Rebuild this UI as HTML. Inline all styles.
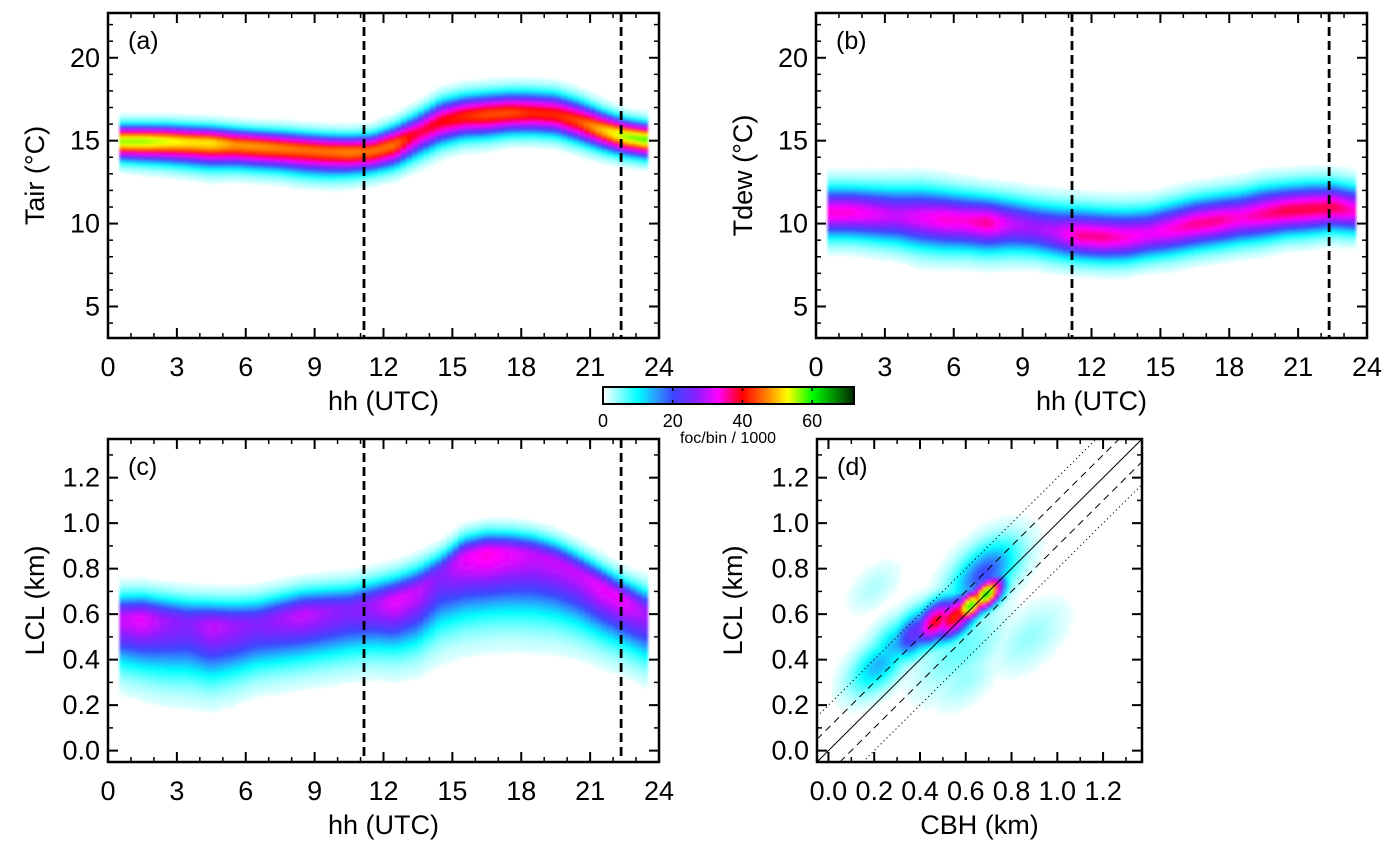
<!DOCTYPE html>
<html><head><meta charset="utf-8"><style>
html,body{margin:0;padding:0;background:#fff;}
svg{display:block;font-family:"Liberation Sans",Arial,sans-serif;}
</style></head><body>
<svg id="fig" width="1396" height="850" viewBox="0 0 1396 850" xmlns="http://www.w3.org/2000/svg">
<defs>
<filter id="blur" x="-5%" y="-5%" width="110%" height="110%"><feGaussianBlur stdDeviation="1.2"/></filter>
<clipPath id="clipA"><rect x="108" y="13" width="551" height="325"/></clipPath>
<clipPath id="clipB"><rect x="816" y="13" width="551" height="325"/></clipPath>
<clipPath id="clipC"><rect x="108" y="439" width="551" height="323"/></clipPath>
<clipPath id="clipD"><rect x="817" y="439" width="325" height="323"/></clipPath>
</defs>
</svg>
<script>
// ---------- data ----------
const hours = [0.5,1.5,2.5,3.5,4.5,5.5,6.5,7.5,8.5,9.5,10.5,11.5,12.5,13.5,14.5,15.5,16.5,17.5,18.5,19.5,20.5,21.5,22.5,23.5];
const taCenter = [15.0,15.0,15.0,14.95,14.9,14.8,14.7,14.6,14.5,14.4,14.35,14.4,14.8,15.5,16.2,16.5,16.6,16.7,16.7,16.6,16.2,15.7,15.3,15.1];
const taPeak = [56,56,54,52,52,48,48,47,46,46,47,46,46,38,40,42,44,44,42,42,44,50,56,58];
const taSigUp = [0.6,0.6,0.6,0.6,0.6,0.6,0.6,0.62,0.62,0.62,0.62,0.64,0.7,0.75,0.8,0.8,0.8,0.8,0.8,0.8,0.78,0.7,0.62,0.6];
const taSigLo = [0.7,0.75,0.8,0.85,0.9,0.85,0.85,0.85,0.9,0.9,0.85,0.8,0.85,0.9,0.9,0.85,0.85,0.8,0.8,0.8,0.8,0.75,0.7,0.7];
const tdCenter = [10.7,10.7,10.6,10.5,10.4,10.3,10.2,10.1,10.0,9.8,9.5,9.3,9.2,9.2,9.4,9.7,10.0,10.2,10.4,10.6,10.8,10.9,11.0,10.8];
const tdPeak = [34,34,32,30,32,34,34,36,30,28,30,36,36,34,32,34,36,36,34,36,38,38,38,34];
const tdSigUp = [1.0,1.0,1.05,1.1,1.15,1.1,1.05,1.0,1.0,1.0,1.05,1.05,1.05,1.05,1.0,1.0,1.0,1.0,1.0,1.05,1.0,1.0,0.95,0.95];
const tdSigLo = [1.0,1.0,1.05,1.1,1.2,1.2,1.15,1.15,1.1,1.05,1.0,0.95,0.95,0.95,0.95,1.0,1.0,1.0,1.0,1.0,0.95,0.95,0.9,0.9];
const lclCenter = [0.58,0.58,0.57,0.56,0.55,0.55,0.56,0.58,0.6,0.61,0.62,0.64,0.66,0.70,0.78,0.85,0.87,0.87,0.86,0.83,0.78,0.72,0.66,0.6];
const lclPeak = [30,32,28,26,30,28,26,28,30,28,26,28,32,30,26,32,34,32,30,30,30,32,32,28];
const lclSigUp = [0.07,0.07,0.07,0.07,0.07,0.07,0.07,0.07,0.07,0.07,0.07,0.07,0.07,0.07,0.06,0.06,0.06,0.06,0.06,0.06,0.06,0.06,0.06,0.07];
const lclSigLo = [0.13,0.14,0.15,0.15,0.15,0.14,0.13,0.13,0.13,0.13,0.13,0.13,0.14,0.15,0.16,0.17,0.17,0.17,0.17,0.16,0.15,0.14,0.13,0.13];
const dCbh = [0.22,0.30,0.38,0.47,0.55,0.62,0.69,0.68,0.58,0.88,0.20,0.60];
const dLcl = [0.38,0.47,0.52,0.57,0.59,0.64,0.69,0.78,0.45,0.50,0.72,0.32];
const dPeak = [14,14,24,40,42,60,62,20,6,4,3,4];
const dSig = [0.06,0.06,0.055,0.05,0.05,0.035,0.035,0.07,0.09,0.07,0.05,0.06];
const vlines = [11.15,22.35];
const cbTicks = [0,20,40,60];
const hourTicks = [0,3,6,9,12,15,18,21,24];
const tTicks = [5,10,15,20];
const kmTicks = [0.0,0.2,0.4,0.6,0.8,1.0,1.2];

// ---------- helpers ----------
const NS='http://www.w3.org/2000/svg';
const svg=document.getElementById('fig');
function mk(tag,attrs,parent){const e=document.createElementNS(NS,tag);for(const k in attrs)e.setAttribute(k,attrs[k]);(parent||svg).appendChild(e);return e;}
const stops=[[0,[255,255,255]],[10,[0,255,255]],[15,[40,160,255]],[20,[60,70,255]],[27,[140,30,255]],[33,[255,0,255]],[40,[255,0,0]],[47,[255,130,0]],[53,[255,255,0]],[60,[0,255,0]],[72,[0,40,0]]];
function cmap(v){if(v<=0)return 'rgb(255,255,255)';if(v>=72)return 'rgb(0,40,0)';
 for(let i=1;i<stops.length;i++){if(v<=stops[i][0]){const a=stops[i-1],b=stops[i];const t=(v-a[0])/(b[0]-a[0]);
 const c=a[1].map((x,j)=>Math.round(x+(b[1][j]-x)*t));return 'rgb('+c.join(',')+')';}}}
function lin(d0,d1,r0,r1){return v=>r0+(v-d0)/(d1-d0)*(r1-r0);}
function interp(arr,h){
 const i=Math.max(0,Math.min(arr.length-2,Math.floor(h-0.5)));const t=Math.max(0,Math.min(1,h-0.5-i));return arr[i]*(1-t)+arr[i+1]*t;}

const panels={
 a:{L:108,R:659,T:13,B:338,y0:3.1,y1:22.7,clip:'clipA'},
 b:{L:816,R:1367,T:13,B:338,y0:3.1,y1:22.7,clip:'clipB'},
 c:{L:108,R:659,T:439,B:762,y0:-0.05,y1:1.37,clip:'clipC'},
 d:{L:817,R:1142,T:439,B:762,y0:-0.05,y1:1.37,x0:-0.05,x1:1.37,clip:'clipD'}
};

function heatTime(p,name,center,peak,sUp,sLo,dy){
 const X=lin(0,24,p.L,p.R),Y=lin(p.y0,p.y1,p.B,p.T);
 const g=mk('g',{'clip-path':'url(#'+p.clip+')'});
 
 
 const gi=mk('g',{filter:'url(#blur)'},g);
 const step=0.25;
 for(let h=hours[0];h<hours[hours.length-1]-1e-9;h+=step){
  const c=interp(center,h+step/2),pk=interp(peak,h+step/2),su=interp(sUp,h+step/2),sl=interp(sLo,h+step/2);
  for(let y=c-4*sl;y<c+4*su;y+=dy){
   const d=y+dy/2-c;const s=d>0?su:sl;const v=pk*Math.exp(-d*d/(2*s*s));
   if(v<1.2)continue;
   const r=mk('rect',{x:X(h).toFixed(2),y:Y(y+dy).toFixed(2),width:(X(h+step)-X(h)+0.6).toFixed(2),height:(Y(y)-Y(y+dy)+0.6).toFixed(2),fill:cmap(v)},gi);
   
   
  }
 }
}
heatTime(panels.a,'tair',taCenter,taPeak,taSigUp,taSigLo,0.1);
heatTime(panels.b,'tdew',tdCenter,tdPeak,tdSigUp,tdSigLo,0.1);
heatTime(panels.c,'lcl',lclCenter,lclPeak,lclSigUp,lclSigLo,0.008);

(function(){const p=panels.d;const X=lin(p.x0,p.x1,p.L,p.R),Y=lin(p.y0,p.y1,p.B,p.T);
 const g=mk('g',{'clip-path':'url(#clipD)'});
 
 
 const gi=mk('g',{filter:'url(#blur)'},g);
 const st=0.015;
 for(let x=0;x<1.3;x+=st){for(let y=0;y<1.3;y+=st){
  let v=0;for(let i=0;i<dCbh.length;i++){const dx=x+st/2-dCbh[i],dy=y+st/2-dLcl[i];
   const along=(dx+dy)/Math.SQRT2,perp=(dy-dx)/Math.SQRT2;
   const w=dPeak[i]*Math.exp(-(along*along)/(2*Math.pow(dSig[i]*1.8,2))-(perp*perp)/(2*dSig[i]*dSig[i]));v=Math.max(v,w);}
  if(v<0.8)continue;
  const r=mk('rect',{x:X(x).toFixed(2),y:Y(y+st).toFixed(2),width:(X(x+st)-X(x)+0.6).toFixed(2),height:(Y(y)-Y(y+st)+0.6).toFixed(2),fill:cmap(v)},gi);
  
  
 }}
 const offs=[[0,'none'],[0.1,'7 5'],[-0.1,'7 5'],[0.2,'1.2 3'],[-0.2,'1.2 3']];
 offs.forEach(o=>{const xa=Math.max(p.x0,p.y0-o[0]),xb=Math.min(p.x1,p.y1-o[0]);
  const l=mk('line',{x1:X(xa),y1:Y(xa+o[0]),x2:X(xb),y2:Y(xb+o[0]),stroke:'#000','stroke-width':1,'stroke-dasharray':o[1]},g);
  
  });
})();

function axes(p,key,xTicks,xMinor,xr,yTicks,yMinor,yFmt,xFmt,xTitle,yTitle,ytx,label){
 const X=lin(xr[0],xr[1],p.L,p.R),Y=lin(p.y0,p.y1,p.B,p.T);
 const g=mk('g',{});
 
 
 xMinor.forEach(v=>{const x=X(v);mk('line',{x1:x,x2:x,y1:p.B,y2:p.B-5,stroke:'#000','stroke-width':1.5},g);mk('line',{x1:x,x2:x,y1:p.T,y2:p.T+5,stroke:'#000','stroke-width':1.5},g);});
 xTicks.forEach(v=>{const x=X(v);mk('line',{x1:x,x2:x,y1:p.B,y2:p.B-10,stroke:'#000','stroke-width':2},g);mk('line',{x1:x,x2:x,y1:p.T,y2:p.T+10,stroke:'#000','stroke-width':2},g);
  const t=mk('text',{x:x,y:p.B+38,'font-size':27,'text-anchor':'middle',fill:'#000'},g);t.textContent=xFmt(v);
  
  });
 yMinor.forEach(v=>{const y=Y(v);mk('line',{x1:p.L,x2:p.L+5,y1:y,y2:y,stroke:'#000','stroke-width':1.5},g);mk('line',{x1:p.R,x2:p.R-5,y1:y,y2:y,stroke:'#000','stroke-width':1.5},g);});
 yTicks.forEach(v=>{const y=Y(v);mk('line',{x1:p.L,x2:p.L+10,y1:y,y2:y,stroke:'#000','stroke-width':2},g);mk('line',{x1:p.R,x2:p.R-10,y1:y,y2:y,stroke:'#000','stroke-width':2},g);
  const t=mk('text',{x:p.L-8,y:y+9,'font-size':27,'text-anchor':'end',fill:'#000'},g);t.textContent=yFmt(v);
  
  });
 mk('rect',{x:p.L,y:p.T,width:p.R-p.L,height:p.B-p.T,fill:'none',stroke:'#000','stroke-width':2.5},g);
 const xt=mk('text',{x:(p.L+p.R)/2,y:p.B+72,'font-size':27,'text-anchor':'middle'},g);xt.textContent=xTitle;
 
 
 const yc=(p.T+p.B)/2;
 const yt=mk('text',{x:ytx,y:yc,'font-size':27,'text-anchor':'middle',transform:'rotate(-90 '+ytx+' '+yc+')'},g);yt.textContent=yTitle;
 
 
 const pl=mk('text',{x:p.L+20,y:p.T+36,'font-size':25},g);pl.textContent=label;
 
 
}
const hMinor=[...Array(25).keys()];
const tMinor=[];for(let v=4;v<=22;v++)tMinor.push(v);
const kmMinor=[];for(let v=0;v<=13;v++)kmMinor.push(v/10);
const intF=v=>String(v),kmF=v=>v.toFixed(1);

function vdash(p){const X=lin(0,24,p.L,p.R);vlines.forEach(h=>{const l=mk('line',{x1:X(h),x2:X(h),y1:p.T,y2:p.B,stroke:'#000','stroke-width':2.8,'stroke-dasharray':'9 5'});
 
 });}
['a','b','c'].forEach(k=>vdash(panels[k]));

axes(panels.a,'a',hourTicks,hMinor,[0,24],tTicks,tMinor,intF,intF,'hh (UTC)','Tair (°C)',44,'(a)');
axes(panels.b,'b',hourTicks,hMinor,[0,24],tTicks,tMinor,intF,intF,'hh (UTC)','Tdew (°C)',752,'(b)');
axes(panels.c,'c',hourTicks,hMinor,[0,24],kmTicks,kmMinor,kmF,intF,'hh (UTC)','LCL (km)',44,'(c)');
axes(panels.d,'d',kmTicks,kmMinor,[-0.05,1.37],kmTicks,kmMinor,kmF,kmF,'CBH (km)','LCL (km)',742,'(d)');

(function(){const L=603,R=854,T=387,B=404;const X=lin(0,72,L,R);
 const g=mk('g',{});
 
 
 for(let v=0;v<72;v+=0.5){mk('rect',{x:X(v),y:T,width:X(v+0.5)-X(v)+0.4,height:B-T,fill:cmap(v+0.25)},g);}
 mk('rect',{x:L,y:T,width:R-L,height:B-T,fill:'none',stroke:'#000','stroke-width':2},g);
 cbTicks.forEach(v=>{const x=X(v);mk('line',{x1:x,x2:x,y1:B,y2:B-4,stroke:'#000','stroke-width':1.5},g);mk('line',{x1:x,x2:x,y1:T,y2:T+4,stroke:'#000','stroke-width':1.5},g);
  const t=mk('text',{x:x,y:B+23,'font-size':18,'text-anchor':'middle'},g);t.textContent=String(v);
  
  });
 const t=mk('text',{x:728,y:443,'font-size':16,'text-anchor':'middle'},g);t.textContent='foc/bin / 1000';
 
 
})();
</script>
</body></html>
